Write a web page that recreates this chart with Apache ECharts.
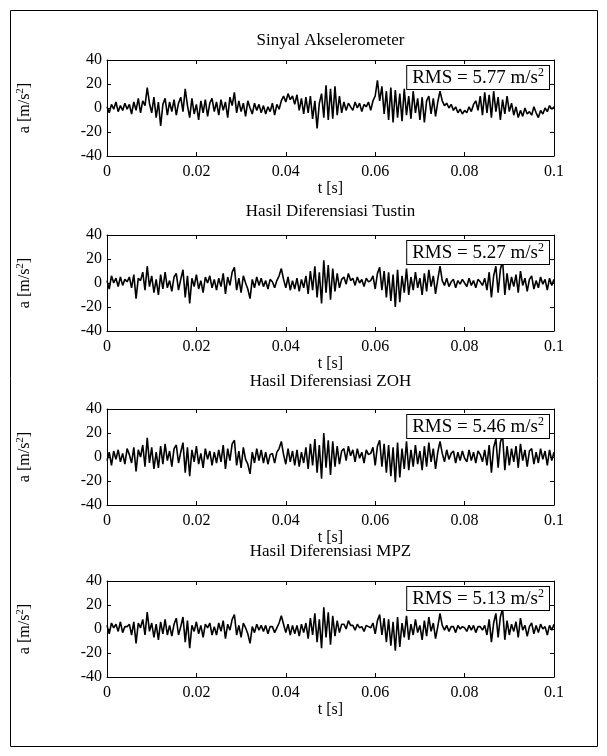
<!DOCTYPE html>
<html>
<head>
<meta charset="utf-8">
<script src="https://cdn.jsdelivr.net/npm/echarts@6/dist/echarts.min.js"></script>
<style>
  html, body { margin: 0; padding: 0; background: #fff; }
  #chart { width: 607px; height: 756px; }
</style>
</head>
<body>
<div id="chart"></div>
<script>
// Sampling step of the recorded signals [s]
const SAMPLE_STEP = 0.0005;

const titles = [
  'Sinyal Akselerometer',
  'Hasil Diferensiasi Tustin',
  'Hasil Diferensiasi ZOH',
  'Hasil Diferensiasi MPZ'
];
const rmsValues = ['5.77', '5.27', '5.46', '5.13'];
const xTicks = [0, 0.02, 0.04, 0.06, 0.08, 0.1];
const yTicks = [-40, -20, 0, 20, 40];

// Accelerometer signal [m/s^2]
const accel = [
  1, -4, 3, -1, 5, -3, 2, -2, 4, -1,
  3, -5, 5, -2, 8, -4, 6, 2, 17, 4,
  -4, 9, -8, 5, -15, 3, 8, -6, 5, -3,
  7, -6, 4, 9, -3, 16, 2, -8, 8, -5,
  3, -10, 6, -4, 7, -7, 4, 8, -3, 5,
  -6, 7, -2, 5, -8, 9, 2, 13, -4, 6,
  -3, 4, -7, 6, 0, -5, 4, -2, 3, -4,
  2, -5, 1, -3, 4, -6, 3, -1, 6, 10,
  5, 12, 7, 10, 3, 11, -2, 8, -5, 9,
  -4, 10, -9, 6, -17, 4, 12, -8, 19, -10,
  16, -9, 18, -6, 10, -4, 5, -2, 4, 1,
  -2, 5, 0, 4, -3, 3, 1, 5, -2, 6,
  10, 23, 6, 18, -5, 14, -10, 17, -12, 15,
  -8, 12, -11, 16, -6, 10, -9, 14, -4, 8,
  -10, 9, -12, 6, 10, -5, 8, -7, 5, 14,
  6, 2, 4, 0, 3, -2, 1, -4, -1, -5,
  -2, -4, 1, -3, 3, 6, -2, 10, -6, 13,
  -4, 11, -8, 14, -3, 9, -10, 7, -5, 10,
  -3, 4, -6, 1, -8, -2, -7, 0, -5, -3,
  -6, 1, -4, -8, -2, -5, 0, -3, 2, -1, 1
];

// Tustin differentiation result [m/s^2]
const tustin = [
  2, -5, 6, 0, 4, -3, 5, -2, 3, 1,
  5, -4, 7, -13, 4, 2, 9, -6, 14, -3,
  6, -8, 3, -10, 7, -5, 9, -4, 2, -7,
  5, 8, -6, 3, 11, -12, 6, -17, 4, -3,
  7, -5, 2, -8, 5, 0, 6, -4, 3, -6,
  4, -3, 8, -9, 5, -2, 9, 13, -6, 4,
  -8, 6, 0, -5, -13, 3, -4, 5, -2, 4,
  -3, 2, -5, 3, 1, -4, 2, 6, 12, 3,
  -4, 5, -6, 2, -5, 4, -7, 3, -4, 6,
  -9, 10, -6, 14, -12, 9, -17, 19, -8, 15,
  -14, 12, -7, 8, -4, 3, 5, -1, 8, 2,
  4, -2, 5, 0, 3, -3, 4, 1, 2, 6,
  -5, 8, 13, -6, 10, -12, 9, -15, 7, -20,
  11, -16, 6, -8, 12, -10, 5, -6, 9, -4,
  4, -10, 8, -7, 11, -3, 6, -9, 3, 14,
  2, -2, 4, -3, 1, 3, -4, 2, -1, 3,
  0, -3, 4, -2, 2, -4, 3, 1, -2, 4,
  -6, 9, -12, 6, 14, -8, 11, 19, -10, 8,
  -6, 5, -3, 7, -8, 10, -2, 4, -7, 3,
  6, -5, 2, -4, 5, -1, 3, -6, 4, -2, 3
];

// ZOH differentiation result [m/s^2]
const zoh = [
  -3, 4, -7, 5, -2, 6, -4, 3, -6, 7,
  2, -5, 8, -12, 6, 0, 10, -8, 16, -5,
  8, -10, 4, -9, 9, -6, 11, -3, 5, -8,
  7, 10, -5, 4, 12, -13, 8, -16, 6, -4,
  9, -6, 3, -9, 7, -2, 5, -7, 4, -5,
  6, -4, 10, -10, 7, -3, 11, 14, -7, 5,
  -9, 8, -2, -6, -14, 4, -5, 7, -3, 6,
  -5, 4, -6, 2, 3, -5, 4, 7, 13, 2,
  -6, 7, -4, 5, -7, 6, -8, 4, -5, 8,
  -10, 11, -7, 15, -13, 10, -18, 20, -9, 14,
  -15, 13, -8, 9, -6, 5, 7, -3, 9, 1,
  6, -4, 7, -1, 4, -5, 6, 2, 3, 8,
  -7, 9, 14, -8, 11, -13, 10, -16, 8, -21,
  12, -17, 7, -10, 13, -11, 6, -8, 10, -6,
  5, -11, 9, -8, 12, -4, 7, -10, 4, 13,
  3, -4, 6, -2, 3, 5, -5, 4, -3, 5,
  -1, -4, 6, -3, 4, -5, 5, 2, -4, 6,
  -7, 10, -13, 8, 15, -9, 12, 18, -11, 9,
  -7, 7, -4, 9, -9, 11, -3, 6, -8, 5,
  7, -6, 4, -5, 7, -2, 5, -7, 6, -3, 4
];

// MPZ differentiation result [m/s^2]
const mpz = [
  3, -4, 5, 1, 4, -2, 6, -3, 2, 2,
  4, -5, 6, -12, 5, 1, 8, -5, 14, -2,
  5, -7, 4, -9, 6, -4, 8, -5, 3, -6,
  4, 9, -5, 2, 10, -11, 7, -16, 3, -2,
  6, -4, 3, -7, 4, 1, 5, -5, 2, -5,
  5, -2, 7, -8, 4, -1, 8, 12, -5, 3,
  -7, 5, 1, -4, -12, 2, -3, 4, -1, 3,
  -2, 3, -4, 2, 2, -3, 1, 5, 11, 4,
  -3, 4, -5, 3, -4, 3, -6, 4, -3, 5,
  -8, 9, -5, 13, -11, 8, -16, 18, -7, 14,
  -13, 11, -6, 7, -3, 4, 4, 0, 7, 3,
  3, -1, 4, 1, 2, -2, 3, 2, 1, 5,
  -4, 7, 12, -5, 9, -11, 8, -14, 6, -18,
  10, -15, 5, -7, 11, -9, 4, -5, 8, -3,
  3, -9, 7, -6, 10, -2, 5, -8, 2, 13,
  3, -1, 3, -2, 2, 2, -3, 3, 0, 2,
  1, -2, 3, -1, 3, -3, 2, 2, -1, 3,
  -5, 8, -11, 5, 13, -7, 10, 17, -9, 7,
  -5, 4, -2, 6, -7, 9, -1, 3, -6, 2,
  5, -4, 3, -3, 4, 0, 2, -5, 3, -1, 4
];

const signals = [accel, tustin, zoh, mpz];

// ---- layout ----
const FONT = '"Liberation Serif", "Times New Roman", serif';
const PLOT_LEFT = 107, PLOT_RIGHT = 554, PLOT_H = 96;
const plotTops = [60, 235, 409, 581];
const titleCenters = [42, 213, 383, 553];

const chart = echarts.init(document.getElementById('chart'), null, { renderer: 'canvas' });

const grids = [], xAxes = [], yAxes = [], series = [], titleOpts = [], graphics = [];

// outer figure frame
graphics.push({
  type: 'rect', silent: true, z: 0,
  shape: { x: 10.5, y: 10.5, width: 587, height: 736 },
  style: { fill: 'none', stroke: '#000', lineWidth: 1 }
});

signals.forEach((sig, k) => {
  const top = plotTops[k];
  grids.push({ left: PLOT_LEFT, right: 607 - PLOT_RIGHT, top: top, height: PLOT_H, containLabel: false });

  const xCommon = {
    type: 'value', gridIndex: k, min: xTicks[0], max: xTicks[xTicks.length - 1], interval: 0.02,
    axisLine: { show: true, onZero: false, lineStyle: { color: '#000', width: 1 } },
    axisTick: { show: true, inside: true, length: 4, lineStyle: { color: '#000' } },
    splitLine: { show: false }
  };
  xAxes.push(Object.assign({}, xCommon, {
    position: 'bottom',
    axisLabel: { show: true, margin: 8, color: '#000', fontFamily: FONT, fontSize: 16,
      formatter: v => String(+v.toFixed(2)) },
    name: 't [s]', nameLocation: 'middle', nameGap: 24,
    nameTextStyle: { color: '#000', fontFamily: FONT, fontSize: 16 }
  }));
  xAxes.push(Object.assign({}, xCommon, { position: 'top', axisLabel: { show: false } }));

  const yCommon = {
    type: 'value', gridIndex: k, min: yTicks[0], max: yTicks[yTicks.length - 1], interval: 20,
    axisLine: { show: true, onZero: false, lineStyle: { color: '#000', width: 1 } },
    axisTick: { show: true, inside: true, length: 4, lineStyle: { color: '#000' } },
    splitLine: { show: false }
  };
  yAxes.push(Object.assign({}, yCommon, {
    position: 'left',
    axisLabel: { show: true, margin: 5, color: '#000', fontFamily: FONT, fontSize: 16 },
    name: '{t|a [m/s}{s|2}{t|]}', nameLocation: 'middle', nameRotate: 90, nameGap: 72,
    nameTextStyle: {
      color: '#000', fontFamily: FONT, fontSize: 16,
      rich: {
        t: { fontFamily: FONT, fontSize: 16, lineHeight: 20, color: '#000' },
        s: { fontFamily: FONT, fontSize: 11, lineHeight: 11, verticalAlign: 'top', color: '#000' }
      }
    }
  }));
  yAxes.push(Object.assign({}, yCommon, { position: 'right', axisLabel: { show: false } }));

  series.push({
    type: 'line', xAxisIndex: 2 * k, yAxisIndex: 2 * k,
    data: sig.map((v, i) => [i * SAMPLE_STEP, v]),
    showSymbol: false, symbol: 'none', silent: true, animation: false,
    lineStyle: { color: '#000', width: 1.6 }
  });

  titleOpts.push({
    text: titles[k], left: (PLOT_LEFT + PLOT_RIGHT) / 2, top: titleCenters[k] - 10,
    textAlign: 'center', padding: 0,
    textStyle: { color: '#000', fontFamily: FONT, fontSize: 17, fontWeight: 'normal' }
  });

  // RMS annotation box in the upper-right corner of each plot
  graphics.push({
    type: 'text', z: 10, silent: true,
    x: PLOT_RIGHT - 5, y: top + 6,
    style: {
      text: '{b|RMS = ' + rmsValues[k] + ' m/s}{s|2}',
      align: 'right', verticalAlign: 'top',
      backgroundColor: '#fff', borderColor: '#000', borderWidth: 1,
      padding: [1, 5, 0, 5],
      rich: {
        b: { fontFamily: FONT, fontSize: 19, lineHeight: 22, color: '#000' },
        s: { fontFamily: FONT, fontSize: 12, lineHeight: 12, verticalAlign: 'top', color: '#000' }
      }
    }
  });
});

chart.setOption({
  backgroundColor: '#fff',
  animation: false,
  title: titleOpts,
  grid: grids,
  xAxis: xAxes,
  yAxis: yAxes,
  series: series,
  graphic: graphics
});
</script>
</body>
</html>
